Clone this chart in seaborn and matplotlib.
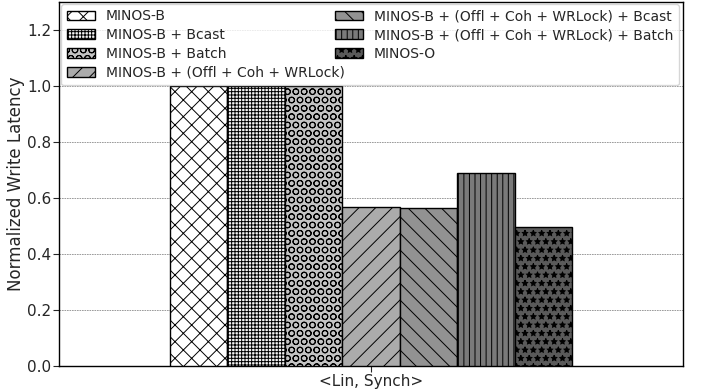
import matplotlib
matplotlib.use("Agg")
import matplotlib.pyplot as plt
import seaborn as sns
import pandas as pd

# Normalized write latency of each protocol variant
workload = ["<Lin, Synch>"]
configs = [
    "MINOS-B",
    "MINOS-B + Bcast",
    "MINOS-B + Batch",
    "MINOS-B + (Offl + Coh + WRLock)",
    "MINOS-B + (Offl + Coh + WRLock) + Bcast",
    "MINOS-B + (Offl + Coh + WRLock) + Batch",
    "MINOS-O",
]
latency = [1.0, 1.0, 1.0, 0.569, 0.563, 0.689, 0.495]

fills = ["#ffffff", "#f4f4f4", "#c4c4c4", "#ababab", "#929292", "#7a7a7a", "#5a5a5a"]
hatches = ["xx", "+++++", "OO", "//", "\\\\", "|||", "**"]

df = pd.DataFrame({
    "workload": workload * len(configs),
    "config": configs,
    "latency": latency,
})

sns.set_style("ticks")
plt.rcParams["font.family"] = ["DejaVu Sans"]
plt.rcParams["hatch.linewidth"] = 0.7

fig, ax = plt.subplots(figsize=(7.01, 3.89), dpi=100)
fig.subplots_adjust(left=0.084, right=0.974, bottom=0.059, top=0.995)

sns.barplot(data=df, x="workload", y="latency", hue="config",
            hue_order=configs, palette=fills, width=0.8,
            edgecolor="black", linewidth=1.0, ax=ax, legend=False,
            zorder=3)

handles = []
for cont, h, c in zip(ax.containers, hatches, fills):
    for p in cont.patches:
        p.set_hatch(h)
        p.set_facecolor(c)
        p.set_edgecolor("black")
    handles.append(cont.patches[0])

ax.set_xlim(-0.62, 0.62)
ax.set_ylim(0, 1.3)
ax.set_yticks([0.0, 0.2, 0.4, 0.6, 0.8, 1.0, 1.2])
ax.yaxis.grid(True, linestyle=(0, (2, 1)), color="#8c8c8c", linewidth=0.6, zorder=0)
ax.set_axisbelow(True)
ax.set_xlabel("")
ax.set_ylabel("Normalized Write Latency", fontsize=12)
ax.yaxis.set_label_coords(-0.054, 0.5)
ax.tick_params(axis="both", labelsize=11, length=4, pad=1.5)
for s in ax.spines.values():
    s.set_color("black")
    s.set_linewidth(1.0)

ax.legend(handles=handles, labels=configs, ncol=2, loc="upper left",
          bbox_to_anchor=(0.004, 0.995, 0.99, 0), mode="expand",
          fontsize=10, labelspacing=0.35, frameon=True, borderaxespad=0.0,
          handlelength=2.0)

fig.savefig("out.png", dpi=100)
